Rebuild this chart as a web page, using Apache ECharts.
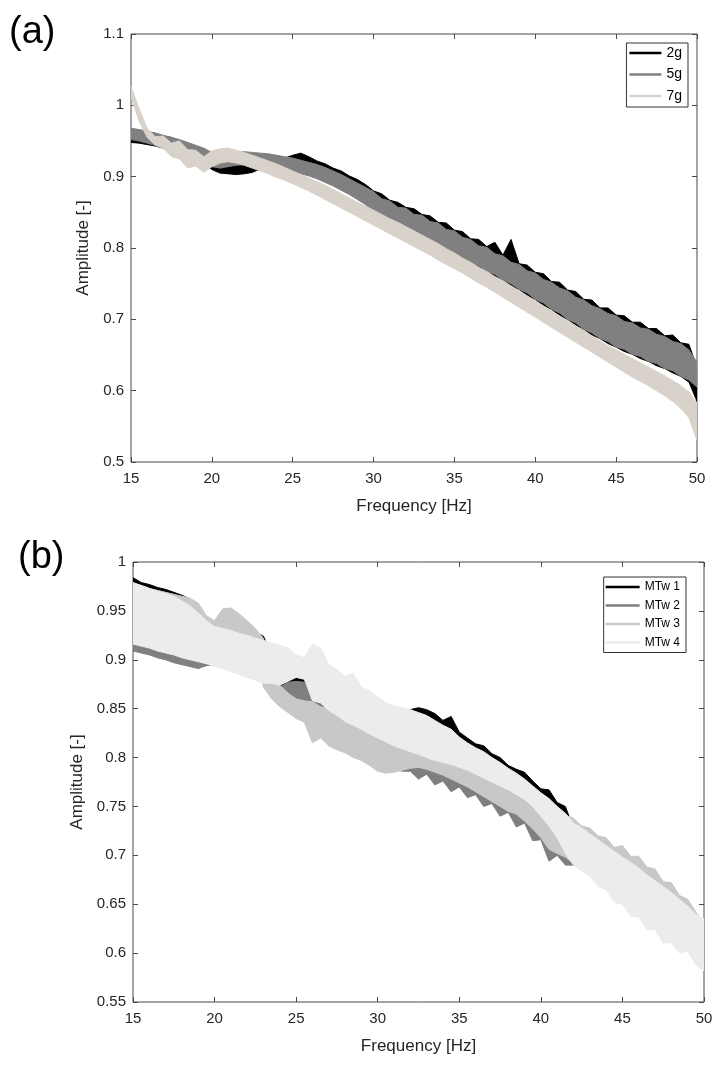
<!DOCTYPE html>
<html><head><meta charset="utf-8">
<script src="https://cdn.jsdelivr.net/npm/echarts@6/dist/echarts.min.js"></script>
<style>html,body{margin:0;padding:0;background:#fff}#c{width:728px;height:1066px}</style>
</head><body><div id="c"></div><script>
// frequency grid (Hz): 15 .. 50 in 0.5 Hz steps
const F_START = 15, F_STEP = 0.5;
const X_TICKS = [15, 20, 25, 30, 35, 40, 45, 50];
const YA_TICKS = [0.5, 0.6, 0.7, 0.8, 0.9, 1.0, 1.1];
const YB_TICKS = [0.55, 0.6, 0.65, 0.7, 0.75, 0.8, 0.85, 0.9, 0.95, 1.0];
const NAMES_A = ['2g', '5g', '7g'];
const NAMES_B = ['MTw 1', 'MTw 2', 'MTw 3', 'MTw 4'];

// (a) upper / lower edges of each noisy trace
const A2_HI = [0.966,0.965,0.962,0.961,0.957,0.955,0.950,0.947,0.942,0.937,
 0.925,0.918,0.916,0.915,0.917,0.922,0.928,0.930,0.929,0.926,
 0.930,0.933,0.928,0.922,0.918,0.912,0.908,0.901,0.896,0.889,
 0.880,0.876,0.867,0.864,0.857,0.855,0.847,0.845,0.836,0.835,
 0.825,0.823,0.813,0.812,0.802,0.808,0.790,0.812,0.778,0.776,
 0.766,0.764,0.753,0.752,0.741,0.739,0.728,0.727,0.716,0.716,
 0.706,0.705,0.696,0.696,0.687,0.687,0.677,0.678,0.667,0.665,
 0.632];
const A2_LO = [0.948,0.947,0.945,0.943,0.940,0.937,0.933,0.930,0.926,0.920,
 0.910,0.905,0.904,0.903,0.904,0.906,0.911,0.913,0.912,0.910,
 0.910,0.910,0.905,0.900,0.893,0.888,0.882,0.876,0.869,0.862,
 0.850,0.845,0.836,0.830,0.825,0.819,0.814,0.806,0.803,0.795,
 0.791,0.784,0.779,0.772,0.767,0.760,0.755,0.746,0.742,0.733,
 0.728,0.719,0.714,0.705,0.700,0.692,0.686,0.678,0.673,0.666,
 0.661,0.655,0.651,0.645,0.641,0.635,0.631,0.625,0.620,0.612,
 0.585];
const A5_HI = [0.968,0.966,0.964,0.961,0.958,0.955,0.952,0.948,0.944,0.940,
 0.934,0.932,0.933,0.934,0.935,0.934,0.933,0.932,0.930,0.928,
 0.926,0.923,0.920,0.917,0.913,0.908,0.903,0.897,0.891,0.885,
 0.879,0.869,0.866,0.857,0.856,0.847,0.846,0.837,0.835,0.826,
 0.824,0.815,0.812,0.803,0.801,0.792,0.789,0.780,0.777,0.768,
 0.765,0.756,0.752,0.744,0.740,0.731,0.727,0.719,0.715,0.708,
 0.705,0.697,0.695,0.688,0.686,0.679,0.676,0.669,0.666,0.657,
 0.640];
const A5_LO = [0.952,0.950,0.947,0.944,0.941,0.938,0.935,0.932,0.928,0.922,
 0.914,0.912,0.914,0.916,0.917,0.917,0.916,0.914,0.912,0.910,
 0.907,0.904,0.901,0.897,0.892,0.887,0.881,0.875,0.868,0.861,
 0.850,0.846,0.836,0.834,0.825,0.822,0.814,0.810,0.803,0.799,
 0.791,0.787,0.779,0.775,0.767,0.763,0.755,0.750,0.742,0.737,
 0.728,0.723,0.714,0.709,0.700,0.695,0.686,0.681,0.673,0.669,
 0.661,0.658,0.651,0.648,0.641,0.638,0.631,0.628,0.620,0.615,
 0.605];
const A7_HI = [1.027,0.995,0.968,0.956,0.957,0.947,0.950,0.938,0.937,0.928,
 0.936,0.939,0.940,0.937,0.934,0.930,0.926,0.922,0.918,0.913,
 0.908,0.903,0.898,0.893,0.888,0.882,0.876,0.870,0.864,0.859,
 0.853,0.847,0.841,0.836,0.830,0.824,0.818,0.812,0.806,0.799,
 0.793,0.786,0.780,0.773,0.767,0.760,0.754,0.747,0.740,0.733,
 0.726,0.719,0.712,0.705,0.698,0.691,0.684,0.677,0.670,0.663,
 0.657,0.651,0.645,0.639,0.633,0.627,0.621,0.614,0.607,0.598,
 0.582];
const A7_LO = [1.012,0.978,0.955,0.944,0.940,0.928,0.925,0.912,0.915,0.906,
 0.914,0.919,0.921,0.919,0.916,0.912,0.908,0.904,0.899,0.895,
 0.890,0.885,0.880,0.874,0.868,0.862,0.856,0.850,0.844,0.838,
 0.832,0.826,0.820,0.814,0.808,0.802,0.796,0.790,0.783,0.777,
 0.771,0.765,0.758,0.751,0.745,0.738,0.731,0.724,0.717,0.710,
 0.703,0.696,0.689,0.682,0.675,0.668,0.661,0.654,0.647,0.640,
 0.633,0.626,0.619,0.613,0.607,0.600,0.593,0.585,0.575,0.562,
 0.530];

// (b) upper / lower edges of each noisy trace
const B1_HI = [0.984,0.979,0.977,0.974,0.972,0.969,0.966,0.962,0.955,0.940,
 0.936,0.945,0.946,0.942,0.936,0.929,0.924,0.905,0.880,0.881,
 0.882,0.880,0.866,0.862,0.858,0.855,0.852,0.850,0.848,0.850,
 0.855,0.851,0.849,0.848,0.849,0.851,0.849,0.845,0.838,0.842,
 0.826,0.820,0.814,0.812,0.804,0.800,0.792,0.788,0.785,0.776,
 0.768,0.767,0.754,0.750,0.728,0.722,0.716,0.710,0.704,0.698,
 0.692,0.686,0.680,0.674,0.668,0.661,0.654,0.647,0.640,0.632,
 0.622];
const B1_LO = [0.930,0.930,0.928,0.927,0.925,0.923,0.920,0.918,0.915,0.913,
 0.910,0.907,0.905,0.902,0.900,0.896,0.892,0.885,0.872,0.870,
 0.868,0.866,0.862,0.858,0.855,0.850,0.845,0.840,0.836,0.832,
 0.826,0.820,0.816,0.813,0.810,0.807,0.805,0.802,0.800,0.798,
 0.795,0.792,0.788,0.784,0.780,0.776,0.772,0.767,0.762,0.756,
 0.748,0.740,0.730,0.720,0.710,0.703,0.697,0.690,0.684,0.677,
 0.670,0.664,0.658,0.651,0.645,0.638,0.632,0.626,0.620,0.612,
 0.600];
const B2_HI = [0.930,0.928,0.925,0.922,0.920,0.917,0.915,0.912,0.910,0.907,
 0.905,0.901,0.898,0.894,0.890,0.886,0.882,0.879,0.872,0.877,
 0.878,0.877,0.858,0.855,0.850,0.846,0.840,0.836,0.830,0.826,
 0.820,0.816,0.812,0.808,0.805,0.802,0.799,0.796,0.793,0.790,
 0.786,0.782,0.778,0.774,0.770,0.765,0.760,0.755,0.750,0.744,
 0.738,0.730,0.724,0.718,0.712,0.706,0.700,0.694,0.688,0.682,
 0.676,0.670,0.664,0.658,0.652,0.646,0.640,0.633,0.626,0.619,
 0.610];
const B2_LO = [0.909,0.907,0.905,0.902,0.900,0.897,0.895,0.893,0.891,0.894,
 0.895,0.892,0.889,0.886,0.883,0.880,0.876,0.873,0.866,0.860,
 0.858,0.857,0.845,0.842,0.838,0.832,0.825,0.818,0.810,0.803,
 0.796,0.792,0.789,0.786,0.786,0.778,0.783,0.772,0.776,0.765,
 0.770,0.759,0.762,0.750,0.753,0.740,0.744,0.729,0.733,0.715,
 0.716,0.694,0.700,0.690,0.690,0.687,0.682,0.676,0.670,0.664,
 0.658,0.652,0.646,0.640,0.634,0.628,0.622,0.616,0.610,0.604,
 0.596];
const B3_HI = [0.978,0.976,0.973,0.971,0.969,0.967,0.965,0.963,0.958,0.945,
 0.940,0.952,0.953,0.947,0.940,0.932,0.922,0.885,0.874,0.866,
 0.860,0.858,0.857,0.852,0.850,0.845,0.840,0.836,0.832,0.827,
 0.822,0.818,0.815,0.812,0.810,0.808,0.806,0.804,0.802,0.800,
 0.797,0.794,0.790,0.786,0.783,0.779,0.775,0.771,0.766,0.761,
 0.755,0.750,0.745,0.741,0.738,0.730,0.728,0.720,0.718,0.708,
 0.710,0.699,0.699,0.688,0.686,0.673,0.672,0.659,0.655,0.642,
 0.632];
const B3_LO = [0.935,0.935,0.935,0.934,0.932,0.930,0.930,0.930,0.928,0.925,
 0.925,0.925,0.922,0.920,0.917,0.915,0.872,0.860,0.852,0.846,
 0.840,0.836,0.815,0.820,0.812,0.808,0.805,0.800,0.797,0.792,
 0.786,0.784,0.785,0.787,0.789,0.790,0.788,0.785,0.782,0.778,
 0.774,0.770,0.765,0.760,0.755,0.750,0.745,0.742,0.735,0.727,
 0.718,0.706,0.702,0.698,0.692,0.687,0.682,0.677,0.672,0.667,
 0.662,0.657,0.651,0.646,0.641,0.636,0.631,0.624,0.618,0.610,
 0.600];
const B4_HI = [0.979,0.976,0.973,0.970,0.968,0.965,0.960,0.955,0.948,0.940,
 0.934,0.932,0.930,0.927,0.925,0.922,0.920,0.917,0.915,0.912,
 0.905,0.902,0.916,0.912,0.895,0.890,0.883,0.886,0.872,0.868,
 0.862,0.856,0.853,0.851,0.849,0.846,0.843,0.838,0.833,0.829,
 0.821,0.815,0.810,0.806,0.800,0.795,0.789,0.784,0.778,0.771,
 0.764,0.758,0.750,0.743,0.733,0.728,0.722,0.716,0.710,0.704,
 0.698,0.693,0.687,0.680,0.674,0.668,0.662,0.655,0.648,0.640,
 0.635];
const B4_LO = [0.916,0.914,0.912,0.909,0.907,0.905,0.902,0.900,0.898,0.896,
 0.893,0.891,0.888,0.885,0.882,0.879,0.876,0.876,0.874,0.878,
 0.882,0.880,0.858,0.856,0.848,0.843,0.837,0.833,0.829,0.824,
 0.820,0.816,0.812,0.809,0.806,0.803,0.800,0.797,0.795,0.793,
 0.790,0.787,0.783,0.779,0.775,0.771,0.767,0.762,0.757,0.750,
 0.740,0.730,0.718,0.702,0.690,0.684,0.679,0.668,0.665,0.652,
 0.650,0.638,0.637,0.624,0.624,0.610,0.611,0.600,0.602,0.588,
 0.582];

const FREQ = A2_HI.map((_, i) => F_START + i * F_STEP);
const FONT = '"Liberation Sans", Arial, Helvetica, sans-serif';
const AX = '#4a4a4a', TXT = '#262626';

function band(name, color, hi, lo, axisIdx) {
  const data = hi.map((h, i) => [FREQ[i], lo[i], h]);
  return {
    type: 'custom', name: name, xAxisIndex: axisIdx, yAxisIndex: axisIdx,
    clip: true, silent: true, itemStyle: { color: color },
    encode: { x: 0, y: [1, 2] }, data: data,
    renderItem: function (params, api) {
      if (params.dataIndex !== 0) return null;
      const pts = [];
      for (let i = 0; i < data.length; i++) pts.push(api.coord([data[i][0], data[i][2]]));
      for (let i = data.length - 1; i >= 0; i--) pts.push(api.coord([data[i][0], data[i][1]]));
      return { type: 'polygon', shape: { points: pts },
        style: { fill: color, stroke: color, lineWidth: 1, lineJoin: 'round' } };
    }
  };
}

function xAx(gi, pos, main) {
  return {
    gridIndex: gi, type: 'value', position: pos,
    min: X_TICKS[0], max: X_TICKS[X_TICKS.length - 1], interval: X_TICKS[1] - X_TICKS[0],
    axisLine: { show: false },
    axisTick: { show: true, inside: true, length: 5, lineStyle: { color: AX, width: 1 } },
    axisLabel: { show: main, margin: 9, fontSize: 15, color: TXT, fontFamily: FONT,
      showMinLabel: true, showMaxLabel: true },
    splitLine: { show: false },
    name: main ? 'Frequency [Hz]' : '', nameLocation: 'middle', nameGap: 36,
    nameTextStyle: { fontSize: 17, color: TXT, fontFamily: FONT }
  };
}
function yAx(gi, pos, main, ticks, gap) {
  return {
    gridIndex: gi, type: 'value', position: pos,
    min: ticks[0], max: ticks[ticks.length - 1], interval: +(ticks[1] - ticks[0]).toFixed(4),
    axisLine: { show: false },
    axisTick: { show: true, inside: true, length: 5, lineStyle: { color: AX, width: 1 } },
    axisLabel: { show: main, margin: 7, fontSize: 15, color: TXT, fontFamily: FONT,
      showMinLabel: true, showMaxLabel: true },
    splitLine: { show: false },
    name: main ? 'Amplitude [-]' : '', nameLocation: 'middle', nameGap: gap,
    nameTextStyle: { fontSize: 17, color: TXT, fontFamily: FONT }
  };
}

const legendCommon = {
  orient: 'vertical', icon: 'rect', itemHeight: 2.5, selectedMode: false,
  backgroundColor: '#fff', borderColor: '#333', borderWidth: 1, borderRadius: 0
};

const option = {
  animation: false,
  backgroundColor: '#fff',
  grid: [
    { left: 131, top: 34, width: 566, height: 428, show: true, borderColor: AX, borderWidth: 1, backgroundColor: 'transparent' },
    { left: 133, top: 562, width: 571, height: 440, show: true, borderColor: AX, borderWidth: 1, backgroundColor: 'transparent' }
  ],
  xAxis: [xAx(0, 'bottom', true), xAx(0, 'top', false), xAx(1, 'bottom', true), xAx(1, 'top', false)],
  yAxis: [yAx(0, 'left', true, YA_TICKS, 31), yAx(0, 'right', false, YA_TICKS, 0),
          yAx(1, 'left', true, YB_TICKS, 40), yAx(1, 'right', false, YB_TICKS, 0)],
  legend: [
    Object.assign({}, legendCommon, { data: NAMES_A, right: 40, top: 43, itemWidth: 32, itemGap: 7.5,
      padding: [3, 6, 4, 3], textStyle: { color: '#000', fontFamily: FONT, fontSize: 14 } }),
    Object.assign({}, legendCommon, { data: NAMES_B, right: 42, top: 577, itemWidth: 34, itemGap: 6.5,
      padding: [4, 6, 4, 2], textStyle: { color: '#000', fontFamily: FONT, fontSize: 12 } })
  ],
  graphic: [
    { type: 'text', left: 9, top: 14, style: { text: '(a)', font: '38px ' + FONT, fill: '#000' } },
    { type: 'text', left: 18, top: 539, style: { text: '(b)', font: '38px ' + FONT, fill: '#000' } }
  ],
  series: [
    band(NAMES_A[0], '#000000', A2_HI, A2_LO, 0),
    band(NAMES_A[1], '#808080', A5_HI, A5_LO, 0),
    band(NAMES_A[2], '#d8d2ca', A7_HI, A7_LO, 0),
    band(NAMES_B[0], '#000000', B1_HI, B1_LO, 2),
    band(NAMES_B[1], '#7f7f7f', B2_HI, B2_LO, 2),
    band(NAMES_B[2], '#c8c8c8', B3_HI, B3_LO, 2),
    band(NAMES_B[3], '#ececec', B4_HI, B4_LO, 2)
  ]
};
const chart = echarts.init(document.getElementById('c'), null, { renderer: 'canvas' });
chart.setOption(option);
</script></body></html>
